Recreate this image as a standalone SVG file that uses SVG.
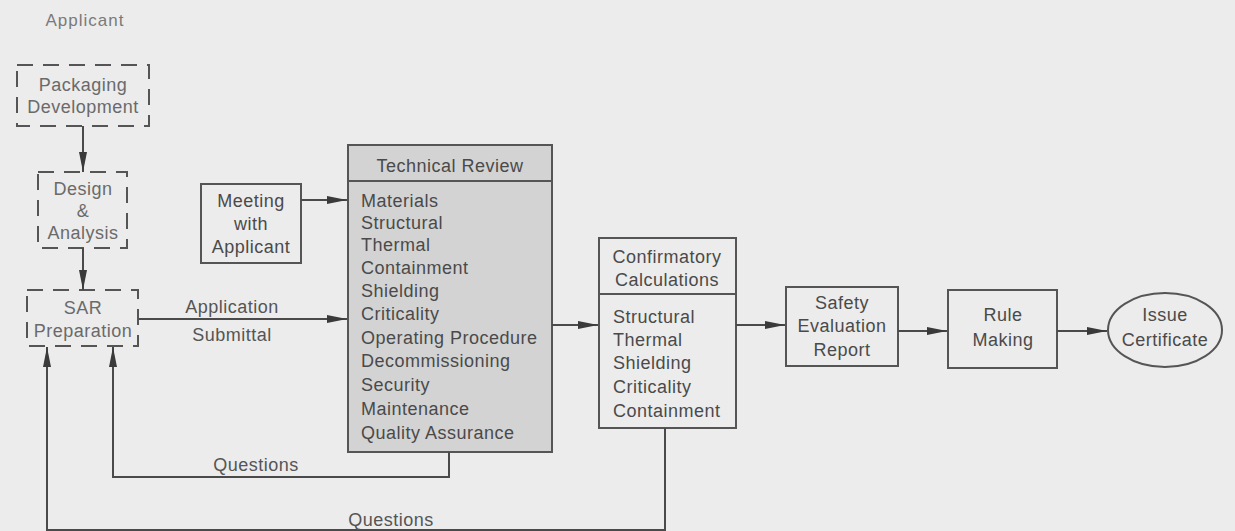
<svg xmlns="http://www.w3.org/2000/svg" width="1235" height="531" viewBox="0 0 1235 531">
<defs>
<marker id="ah" viewBox="0 0 20 10" refX="20" refY="5" markerWidth="20" markerHeight="10" markerUnits="userSpaceOnUse" orient="auto">
<path d="M0,1 L20,5 L0,9 Z" fill="#3a3a3a"/>
</marker>
</defs>
<style>
text{font-family:"Liberation Sans",Arial,sans-serif;font-size:18px;letter-spacing:0.5px;fill:#4a4a4a}
.c{text-anchor:middle}
.dash{fill:none;stroke:#555;stroke-width:2;stroke-dasharray:16 10}
.box{fill:none;stroke:#555;stroke-width:2}
.ln{fill:none;stroke:#4a4a4a;stroke-width:2}
.lbl{fill:#555}
.dt{fill:#6a6a6a}
</style>
<rect width="1235" height="531" fill="#ececec"/>
<text x="85" y="26" class="c" style="fill:#7a7a7a;font-size:17px;letter-spacing:1px">Applicant</text>

<g id="packaging">
<rect x="17" y="65" width="132" height="61" class="dash"/>
<text x="83" y="91" class="c dt">Packaging</text>
<text x="83" y="113" class="c dt">Development</text>
</g>
<g id="design">
<rect x="38" y="172" width="89" height="76" class="dash"/>
<text x="83" y="195" class="c dt">Design</text>
<text x="83" y="217" class="c dt">&amp;</text>
<text x="83" y="239" class="c dt">Analysis</text>
</g>
<g id="sar">
<rect x="27" y="290" width="111" height="56" class="dash"/>
<text x="83" y="314" class="c dt">SAR</text>
<text x="83" y="337" class="c dt">Preparation</text>
</g>
<g id="meeting">
<rect x="201" y="184" width="100" height="79" class="box"/>
<text x="251" y="207" class="c">Meeting</text>
<text x="251" y="230" class="c">with</text>
<text x="251" y="253" class="c">Applicant</text>
</g>
<g id="technical">
<rect x="348" y="145" width="204" height="307" fill="#d3d3d3" stroke="#555" stroke-width="2"/>
<line x1="348" y1="181" x2="552" y2="181" stroke="#555" stroke-width="2"/>
<text x="450" y="172" class="c">Technical Review</text>
<text x="361" y="207">Materials</text>
<text x="361" y="229">Structural</text>
<text x="361" y="251">Thermal</text>
<text x="361" y="274">Containment</text>
<text x="361" y="297">Shielding</text>
<text x="361" y="320">Criticality</text>
<text x="361" y="344">Operating Procedure</text>
<text x="361" y="367">Decommissioning</text>
<text x="361" y="391">Security</text>
<text x="361" y="415">Maintenance</text>
<text x="361" y="439">Quality Assurance</text>
</g>
<g id="confirmatory">
<rect x="599" y="238" width="137" height="190" class="box"/>
<line x1="599" y1="294" x2="736" y2="294" stroke="#555" stroke-width="2"/>
<text x="667" y="263" class="c">Confirmatory</text>
<text x="667" y="286" class="c">Calculations</text>
<text x="613" y="323">Structural</text>
<text x="613" y="346">Thermal</text>
<text x="613" y="369">Shielding</text>
<text x="613" y="393">Criticality</text>
<text x="613" y="417">Containment</text>
</g>
<g id="ser">
<rect x="786" y="287" width="112" height="79" class="box"/>
<text x="842" y="309" class="c">Safety</text>
<text x="842" y="332" class="c">Evaluation</text>
<text x="842" y="356" class="c">Report</text>
</g>
<g id="rule">
<rect x="948" y="290" width="109" height="78" class="box"/>
<text x="1003" y="321" class="c">Rule</text>
<text x="1003" y="346" class="c">Making</text>
</g>
<g id="issue">
<ellipse cx="1165" cy="330" rx="57" ry="37" class="box"/>
<text x="1165" y="321" class="c">Issue</text>
<text x="1165" y="346" class="c">Certificate</text>
</g>

<g id="connectors">
<line x1="83" y1="126" x2="83" y2="172" class="ln" marker-end="url(#ah)"/>
<line x1="83" y1="248" x2="83" y2="290" class="ln" marker-end="url(#ah)"/>
<line x1="139" y1="319" x2="347" y2="319" class="ln" marker-end="url(#ah)"/>
<line x1="301" y1="200" x2="347" y2="200" class="ln" marker-end="url(#ah)"/>
<line x1="552" y1="325" x2="598" y2="325" class="ln" marker-end="url(#ah)"/>
<line x1="736" y1="325" x2="785" y2="325" class="ln" marker-end="url(#ah)"/>
<line x1="898" y1="331" x2="947" y2="331" class="ln" marker-end="url(#ah)"/>
<line x1="1057" y1="331" x2="1107" y2="331" class="ln" marker-end="url(#ah)"/>
<polyline points="449,452 449,477 113,477 113,347" class="ln" marker-end="url(#ah)"/>
<polyline points="665,428 665,530 47,530 47,347" class="ln" marker-end="url(#ah)"/>
<text x="232" y="313" class="c lbl">Application</text>
<text x="232" y="341" class="c lbl">Submittal</text>
<text x="256" y="471" class="c lbl">Questions</text>
<text x="391" y="526" class="c lbl">Questions</text>
</g>
</svg>
